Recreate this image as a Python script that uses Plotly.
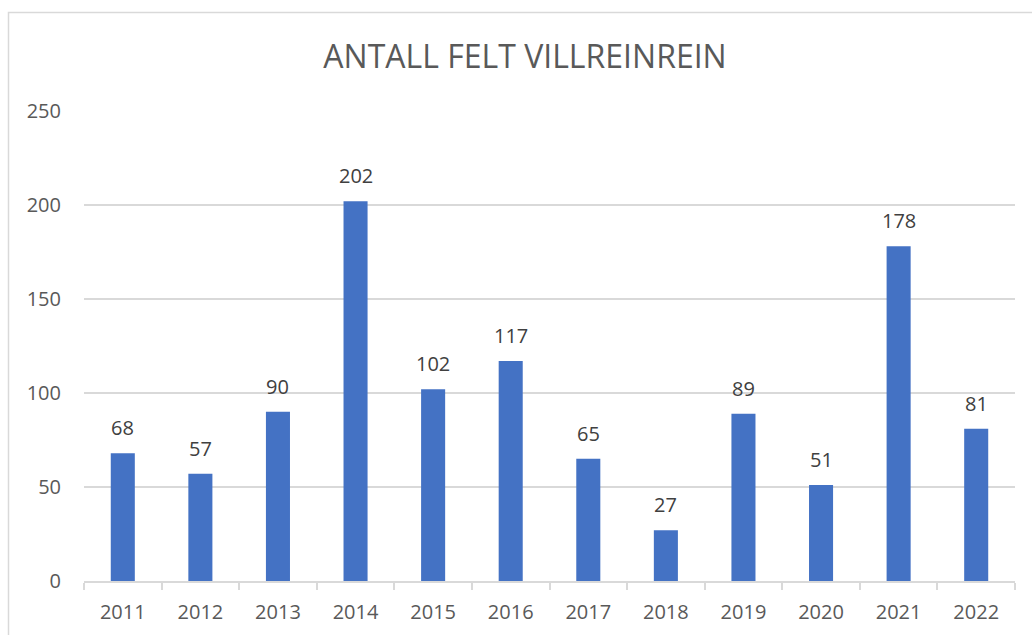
import plotly.graph_objects as go

years = ["2011", "2012", "2013", "2014", "2015", "2016", "2017", "2018", "2019", "2020", "2021", "2022"]
values = [68, 57, 90, 202, 102, 117, 65, 27, 89, 51, 178, 81]
y_ticks = [0, 50, 100, 150, 200, 250]
title_text = "ANTALL FELT VILLREINREIN"

W, H = 1032, 635
L, R, T, B = 84, 17, 111, 54
pw, ph = W - L - R, H - T - B
FONT = "Open Sans"

fig = go.Figure()
fig.add_trace(go.Bar(
    x=years, y=values,
    marker=dict(color="#4472C4", line=dict(width=0)),
    hoverinfo="x+y",
))

# data labels: x given as category index so numeric-looking names are not misread
for i, v in enumerate(values):
    fig.add_annotation(x=i, y=v, xref="x", yref="y", text=str(v), showarrow=False,
                       yanchor="bottom", yshift=10,
                       font=dict(family=FONT, size=20, color="#404040"))

def px_x(p):
    return (p - L) / pw

def px_y(p):
    return 1 - (p - T) / ph

fig.add_shape(type="rect", xref="paper", yref="paper",
              x0=px_x(8.5), x1=px_x(1045), y0=px_y(12.5), y1=px_y(645),
              line=dict(color="#D9D9D9", width=1.5), fillcolor="rgba(0,0,0,0)", layer="below")

fig.update_layout(
    width=W, height=H,
    margin=dict(l=L, r=R, t=T, b=B, autoexpand=False),
    paper_bgcolor="white", plot_bgcolor="white",
    bargap=0.69,
    showlegend=False,
    title=dict(text=title_text, xref="container", yref="container",
               x=525 / W, xanchor="center", y=1 - 56.5 / H, yanchor="middle",
               font=dict(family=FONT, size=32, color="#595959")),
    font=dict(family=FONT, color="#595959"),
)
fig.update_xaxes(
    type="category", categoryorder="array", categoryarray=years, range=[-0.5, len(years) - 0.5],
    showgrid=False, showline=True, linecolor="#D9D9D9", linewidth=1.5,
    ticks="outside", tickson="boundaries", ticklen=7, tickcolor="#D9D9D9", tickwidth=1.5,
    tickangle=0, automargin=False, ticklabelstandoff=12,
    tickfont=dict(family=FONT, size=20, color="#595959"),
)
fig.update_yaxes(
    range=[0, 250], tickvals=y_ticks, showgrid=True, gridcolor="#D9D9D9", gridwidth=1.5,
    zeroline=False, showline=False, ticks="", ticklabelstandoff=22, automargin=False,
    tickfont=dict(family=FONT, size=20, color="#595959"),
)

fig.write_html("out.html", config={"displayModeBar": False},
               post_script="document.body.style.margin='0';document.body.style.overflow='hidden';")
